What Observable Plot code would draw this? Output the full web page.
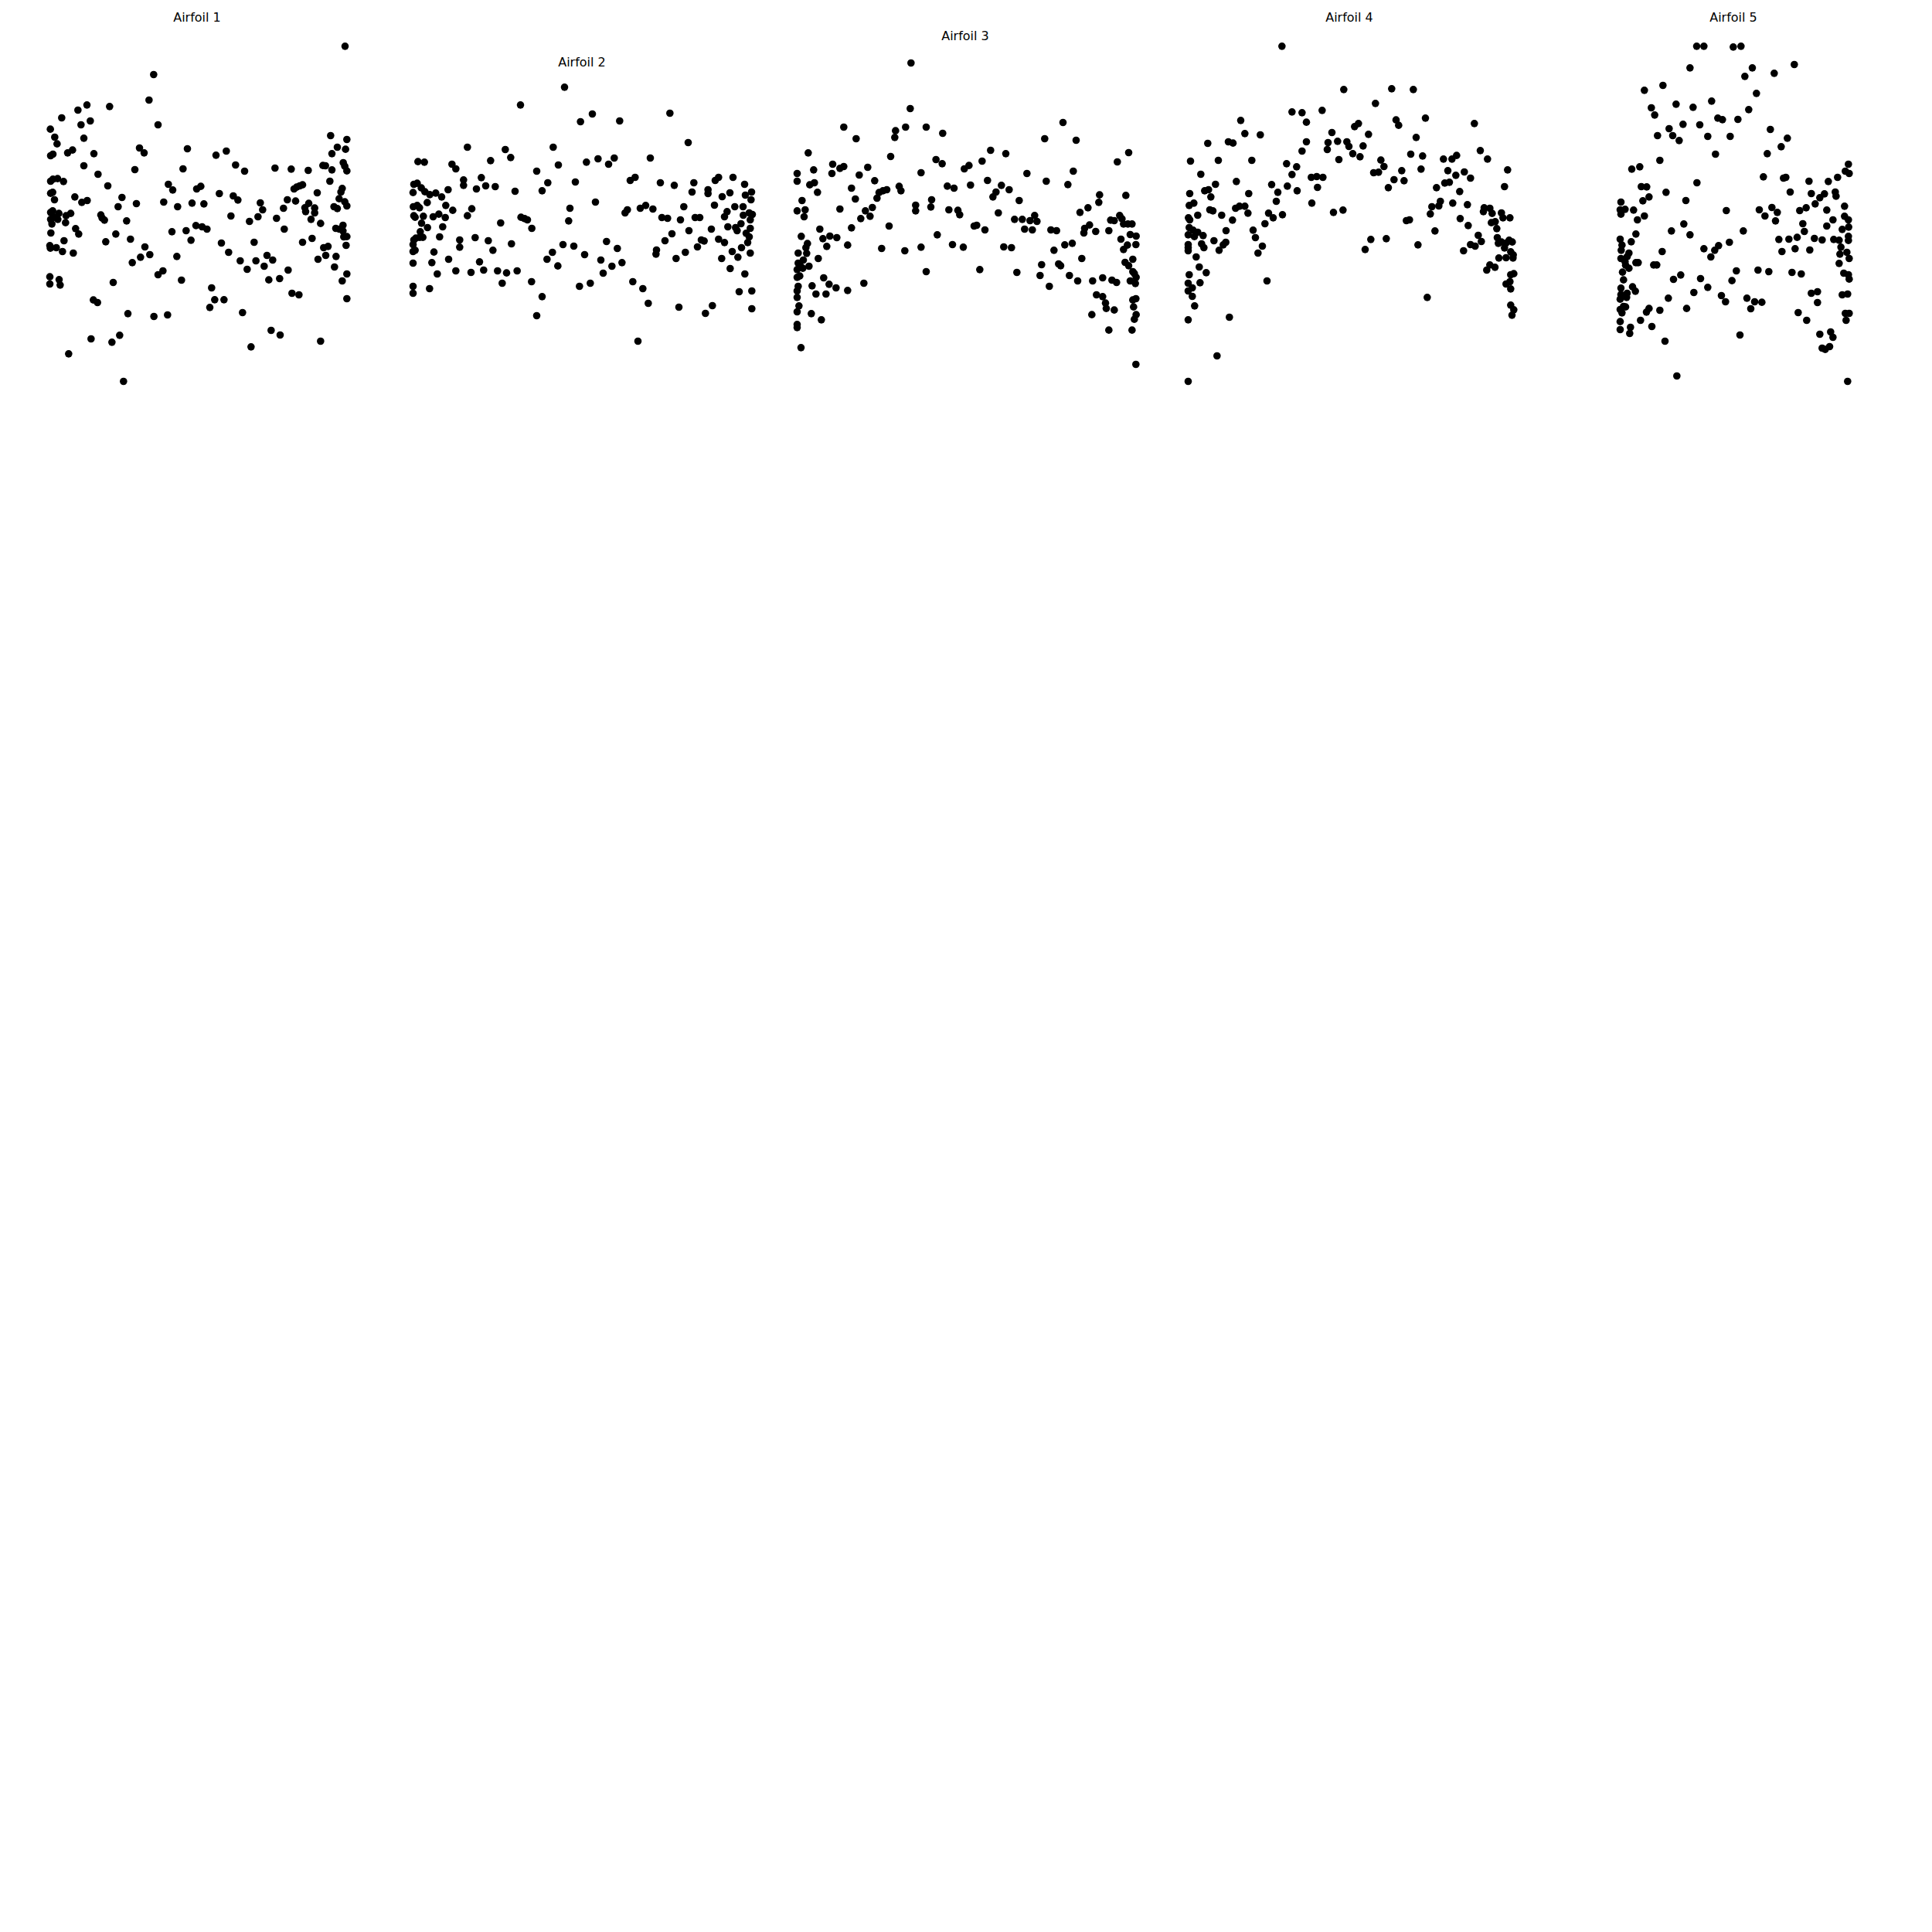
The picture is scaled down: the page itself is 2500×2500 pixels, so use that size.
<!DOCTYPE html>
<html><head><meta charset="utf-8">
<script src="https://cdn.jsdelivr.net/npm/d3@7"></script>
<script src="https://cdn.jsdelivr.net/npm/@observablehq/plot@0.6"></script>
<style>
html,body{margin:0;padding:0;background:#fff;}
body{width:2500px;height:2500px;position:relative;font-family:"DejaVu Sans",sans-serif;}
.panel{position:absolute;}
.title{position:absolute;font-size:16px;line-height:1;color:#000;transform:translateX(-50%);white-space:nowrap;}
</style></head><body>
<script>
const titles = ["Airfoil 1", "Airfoil 2", "Airfoil 3", "Airfoil 4", "Airfoil 5"];

const airfoil1 = [
[445,258],[427,357],[462,453],[186,376],[151,396],[274,382],[88,426],[163,453],[199,438],[44,470],[61,501],[70,527],[174,505],[390,543],[408,562],[576,546],[45,573],[54,567],[111,562],[130,551],[213,565],[174,612],[372,627],[559,624],[229,645],[45,672],[54,664],[72,662],[95,673],[267,690],[502,684],[519,706],[612,702],[628,692],[45,719],[53,715],[60,744],[139,733],[166,754],[187,747],[322,735],[307,771],[378,759],[484,753],[538,771],[594,757],[640,760],[45,793],[53,787],[77,797],[45,820],[60,812],[73,820],[50,838],[103,833],[105,806],[123,797],[240,803],[245,815],[254,823],[46,873],[142,856],[154,877],[340,826],[298,877],[355,897],[259,907],[97,903],[516,868],[571,864],[590,901],[609,844],[633,849],[42,922],[44,932],[67,930],[91,945],[133,951],[411,927],[430,957],[394,967],[362,988],[535,964],[462,1035],[481,1020],[553,1056],[42,1043],[42,1071],[78,1054],[82,1075],[288,1065],[211,1133],[227,1143],[345,1186],[446,1197],[499,1191],[202,1284],[283,1297],[313,1270],[115,1342],[328,1449],
[1188,148],[1132,495],[1195,510],[1158,540],[1190,548],[1137,565],[687,571],[727,555],[763,609],[798,633],[916,621],[979,625],[1045,630],[1102,611],[1112,612],[1137,628],[1181,600],[1187,614],[1195,632],[1129,672],[700,720],[754,729],[772,745],[990,702],[1000,695],[1012,690],[1023,686],[1080,717],[1172,714],[1177,700],[1165,740],[1187,752],[1195,768],[1145,771],[1158,778],[859,756],[868,783],[850,810],[964,744],[996,749],[949,777],[745,807],[817,828],[922,816],[952,858],[1047,758],[1032,775],[1035,790],[1070,776],[1070,795],[1056,820],[1093,836],[1152,855],[1166,858],[1180,843],[1180,865],[1183,888],[1195,887],[1192,921],[652,858],[708,912],[736,948],[835,909],[781,981],[808,1014],[842,981],[874,1002],[885,960],[907,978],[892,1055],[934,1050],[967,1017],[1023,909],[1060,894],[1105,930],[1122,925],[1113,960],[1083,975],[1153,964],[1147,1005],[1195,1032],[1177,1059],[1195,1128],[982,1107],[1009,1113],[670,1086],[682,1132],[663,1162],[718,1132],[790,1182],[901,1251],[936,1269],[823,1315],[1093,1293]
];

const airfoil2 = [
[630,307],[459,376],[692,441],[253,540],[400,549],[421,580],[586,540],[61,596],[86,598],[193,606],[208,624],[343,592],[606,609],[522,633],[45,684],[58,680],[74,698],[88,713],[107,724],[130,718],[153,733],[238,667],[238,688],[307,658],[288,702],[324,690],[361,693],[178,705],[438,711],[565,678],[543,709],[672,675],[42,716],[97,755],[43,771],[58,766],[67,775],[45,806],[50,812],[82,808],[120,810],[142,800],[167,813],[169,766],[196,785],[270,779],[253,806],[651,777],[646,826],[75,835],[98,852],[157,849],[382,834],[461,812],[475,817],[486,822],[503,855],[70,868],[45,900],[53,893],[68,890],[80,890],[42,918],[42,945],[50,940],[145,888],[223,900],[223,928],[283,891],[334,903],[352,940],[424,915],[123,947],[180,975],[115,988],[136,1032],[42,990],[208,1020],[267,1026],[300,985],[316,1017],[370,1020],[405,1028],[446,1020],[388,1068],[624,918],[666,924],[583,948],[562,975],[604,1001],[502,1062],[543,1120],[522,1194],[42,1080],[42,1107],[106,1089],[688,1080],
[738,411],[844,438],[1039,408],[1110,522],[715,598],[760,585],[801,606],[823,582],[963,582],[885,669],[904,657],[1002,678],[1056,688],[1132,678],[1125,714],[1187,705],[1187,720],[1215,669],[1228,657],[1284,657],[1329,684],[1272,717],[1242,732],[1332,726],[1356,714],[1354,744],[750,753],[865,795],[874,783],[924,777],[945,766],[973,780],[1008,813],[1030,816],[1080,822],[1093,771],[1137,813],[1155,813],[1212,765],[1261,790],[1251,810],[1291,771],[1323,771],[1324,804],[1347,795],[1359,801],[1351,822],[1315,837],[1264,849],[1294,852],[1300,864],[1351,855],[1335,874],[1347,888],[1341,910],[1200,858],[1113,864],[1228,897],[1251,910],[1047,876],[1020,903],[987,939],[985,955],[1063,972],[1099,948],[1146,927],[1161,900],[1172,904],[708,957],[793,906],[835,933],[771,978],[814,1002],[780,1029],[853,988],[1281,945],[1317,930],[1303,967],[1351,951],[1240,972],[1273,1011],[1330,1032],[730,1068],[895,1062],[934,1089],[955,1146],[1074,1161],[1177,1185],[1204,1155],[1308,1101],[1357,1098],[1357,1167],[915,1293]
];

const airfoil3 = [
[490,213],[487,390],[229,462],[277,507],[430,476],[427,502],[469,462],[549,462],[613,486],[91,562],[411,576],[186,606],[183,642],[214,622],[229,615],[322,618],[289,648],[48,642],[48,672],[112,628],[97,686],[115,678],[127,715],[529,639],[587,588],[611,604],[697,624],[349,670],[259,699],[274,741],[366,716],[358,738],[381,709],[396,705],[444,692],[451,709],[631,691],[657,699],[67,747],[48,787],[79,783],[75,810],[214,780],[313,787],[340,774],[331,808],[295,817],[508,765],[508,787],[570,744],[567,772],[637,783],[672,785],[679,802],[259,853],[405,846],[136,858],[64,886],[148,895],[175,885],[202,891],[163,925],[88,914],[82,930],[85,952],[52,951],[244,920],[376,933],[466,942],[529,928],[592,880],[651,918],[693,928],[130,972],[72,978],[52,990],[60,1000],[48,1015],[70,1010],[94,1002],[48,1045],[58,1040],[549,1023],[151,1047],[172,1072],[199,1086],[244,1096],[307,1068],[106,1078],[121,1110],[160,1110],[52,1080],[48,1098],[48,1123],[55,1156],[48,1179],[103,1186],[142,1210],[48,1228],[48,1240],[63,1318],
[1080,444],[1009,507],[1131,513],[799,552],[858,565],[766,594],[715,611],[1291,597],[1335,561],[940,642],[1120,633],[1015,672],[1099,685],[721,687],[787,669],[841,688],[820,714],[808,733],[871,705],[910,747],[1222,725],[1219,754],[1324,727],[829,795],[892,820],[922,820],[952,825],[970,805],[979,828],[1146,793],[1177,775],[735,846],[745,843],[777,861],[931,858],[961,861],[1033,861],[1055,864],[1164,855],[1161,873],[1183,842],[1207,867],[1258,864],[1265,823],[1279,825],[1300,805],[1309,818],[1315,838],[1332,838],[1348,838],[1341,879],[1364,885],[1305,897],[1363,918],[1330,920],[1315,937],[850,927],[880,930],[1045,940],[1087,919],[1116,913],[1153,972],[757,1015],[901,1026],[997,996],[991,1038],[1063,993],[1071,1000],[1027,1080],[1105,1038],[1137,1059],[1195,1059],[1234,1047],[1270,1056],[1288,1065],[1351,975],[1321,987],[1335,1000],[1351,1023],[1357,1030],[1364,1045],[1341,1059],[1361,1069],[1210,1113],[1234,1120],[1245,1145],[1248,1166],[1279,1172],[1192,1190],[1363,1128],[1351,1133],[1354,1160],[1364,1190],[1357,1208],[1258,1250],[1348,1250],[1363,1383]
];

const airfoil4 = [
[430,148],[670,316],[469,403],[508,406],[525,443],[586,397],[270,436],[286,487],[346,492],[624,483],[609,522],[606,549],[646,517],[142,525],[222,519],[240,524],[525,519],[508,555],[75,594],[183,591],[313,591],[448,604],[487,616],[469,646],[651,588],[115,645],[253,673],[172,684],[130,709],[145,705],[154,733],[72,720],[301,720],[390,685],[414,715],[408,750],[451,691],[489,709],[544,657],[565,654],[589,657],[568,696],[546,757],[70,766],[88,757],[150,783],[162,787],[196,804],[238,823],[250,777],[265,769],[286,769],[298,796],[378,796],[396,814],[432,802],[364,837],[630,793],[667,784],[67,814],[72,822],[103,804],[70,852],[85,862],[103,870],[124,883],[66,880],[90,887],[213,864],[318,862],[327,891],[166,903],[186,940],[202,919],[212,909],[118,915],[127,930],[66,918],[66,930],[66,942],[354,924],[337,951],[97,966],[109,1005],[136,1027],[70,1035],[66,1068],[66,1098],[82,1086],[82,1119],[112,1066],[91,1156],[372,1059],[66,1210],[226,1200],[178,1350],[66,1449],
[856,313],[940,316],[793,370],[712,460],[727,448],[873,434],[883,455],[987,427],[1177,448],[766,490],[951,502],[682,519],[690,537],[705,565],[733,577],[745,535],[814,590],[826,615],[786,639],[805,637],[930,567],[976,574],[970,625],[895,631],[904,670],[865,666],[843,697],[1057,586],[1090,586],[1108,572],[1074,631],[1105,649],[1138,636],[1162,660],[1200,553],[1228,586],[1306,628],[1294,693],[1030,697],[1062,679],[1080,676],[1120,712],[1012,771],[1039,768],[1045,750],[1006,799],[1093,757],[1150,763],[1215,775],[1212,790],[1237,777],[1246,797],[1282,795],[1288,814],[1315,814],[913,825],[925,822],[1122,817],[1153,844],[1243,833],[1258,829],[1264,856],[1024,865],[775,898],[835,895],[753,937],[958,919],[1135,942],[1162,918],[1180,924],[1192,882],[1204,906],[1266,891],[1270,913],[1282,908],[1294,931],[1300,912],[1312,901],[1324,908],[1318,946],[1328,958],[1327,970],[1272,970],[1300,969],[1225,1017],[1237,997],[1257,1006],[1318,1035],[1330,1031],[1300,1071],[1315,1062],[1318,1090],[994,1123],[1318,1153],[1330,1171],[1323,1192]
];

const airfoil5 = [
[360,148],[388,148],[502,151],[334,232],[157,319],[229,300],[418,361],[280,373],[346,385],[184,387],[197,415],[442,427],[460,433],[307,451],[372,453],[253,468],[208,495],[267,495],[292,514],[403,498],[490,498],[433,567],[217,591],[108,625],[139,616],[361,678],[145,693],[166,694],[175,733],[151,748],[241,715],[318,747],[66,753],[63,783],[66,800],[82,781],[115,784],[130,822],[157,807],[475,786],[310,838],[334,880],[262,865],[124,877],[106,907],[63,897],[70,920],[67,940],[97,951],[90,965],[487,909],[388,934],[430,940],[445,922],[415,966],[226,945],[66,972],[82,985],[124,988],[133,988],[193,997],[205,997],[84,998],[97,1010],[72,1025],[76,1055],[270,1053],[298,1036],[375,1050],[403,1084],[349,1104],[497,1058],[66,1087],[111,1082],[122,1099],[90,1107],[66,1112],[88,1123],[63,1130],[250,1126],[456,1116],[472,1140],[76,1158],[63,1170],[84,1160],[70,1183],[175,1166],[165,1180],[217,1173],[321,1166],[142,1212],[63,1217],[63,1248],[103,1239],[100,1263],[186,1236],[237,1293],[283,1428],
[532,148],[576,232],[547,265],[661,253],[739,219],[592,331],[562,394],[520,432],[646,471],[712,505],[688,538],[634,565],[949,606],[937,633],[952,642],[619,655],[697,660],[706,657],[796,672],[871,673],[907,657],[723,714],[805,720],[838,736],[856,721],[898,714],[901,730],[820,760],[865,784],[934,769],[603,783],[625,807],[652,774],[673,793],[666,826],[760,786],[785,775],[772,837],[778,867],[750,890],[718,897],[679,898],[691,945],[742,934],[799,939],[865,846],[889,822],[934,808],[949,822],[950,850],[925,859],[817,894],[847,900],[892,898],[913,901],[949,886],[949,902],[541,865],[920,928],[916,955],[943,948],[952,972],[913,991],[514,1020],[598,1017],[640,1023],[730,1026],[766,1032],[931,1029],[949,1035],[952,1052],[805,1107],[829,1101],[829,1143],[925,1113],[946,1110],[555,1126],[585,1140],[613,1142],[570,1167],[754,1182],[787,1212],[937,1185],[952,1185],[940,1212],[528,1269],[838,1266],[880,1257],[889,1278],[847,1320],[859,1325],[876,1314],[946,1449]
];

const series = [airfoil1, airfoil2, airfoil3, airfoil4, airfoil5];

// layout (page pixels)
const panelLeft = [50, 520, 1015, 1515, 2075];
const panelWidth = [420, 465, 465, 455, 335];
const panelTop = 10, panelHeight = 495;
const titleCenter = [255, 753, 1249, 1746, 2243];
const titleBaseline = [28, 86, 52.5, 28, 28];

series.forEach((pts, i) => {
  const chart = Plot.plot({
    width: panelWidth[i],
    height: panelHeight,
    margin: 0,
    style: {background: "transparent", overflow: "visible"},
    x: {domain: [0, panelWidth[i] * 3], axis: null},
    y: {domain: [0, panelHeight * 3], reverse: true, axis: null},
    marks: [
      Plot.dot(pts, {x: d => d[0], y: d => d[1], r: 4.8, fill: "#000", stroke: "none"})
    ]
  });
  const wrap = document.createElement("div");
  wrap.className = "panel";
  wrap.style.left = panelLeft[i] + "px";
  wrap.style.top = panelTop + "px";
  wrap.appendChild(chart);
  document.body.appendChild(wrap);

  const t = document.createElement("div");
  t.className = "title";
  t.textContent = titles[i];
  t.style.left = titleCenter[i] + "px";
  t.style.top = (titleBaseline[i] - 13.5) + "px";
  document.body.appendChild(t);
});
</script>
</body></html>
